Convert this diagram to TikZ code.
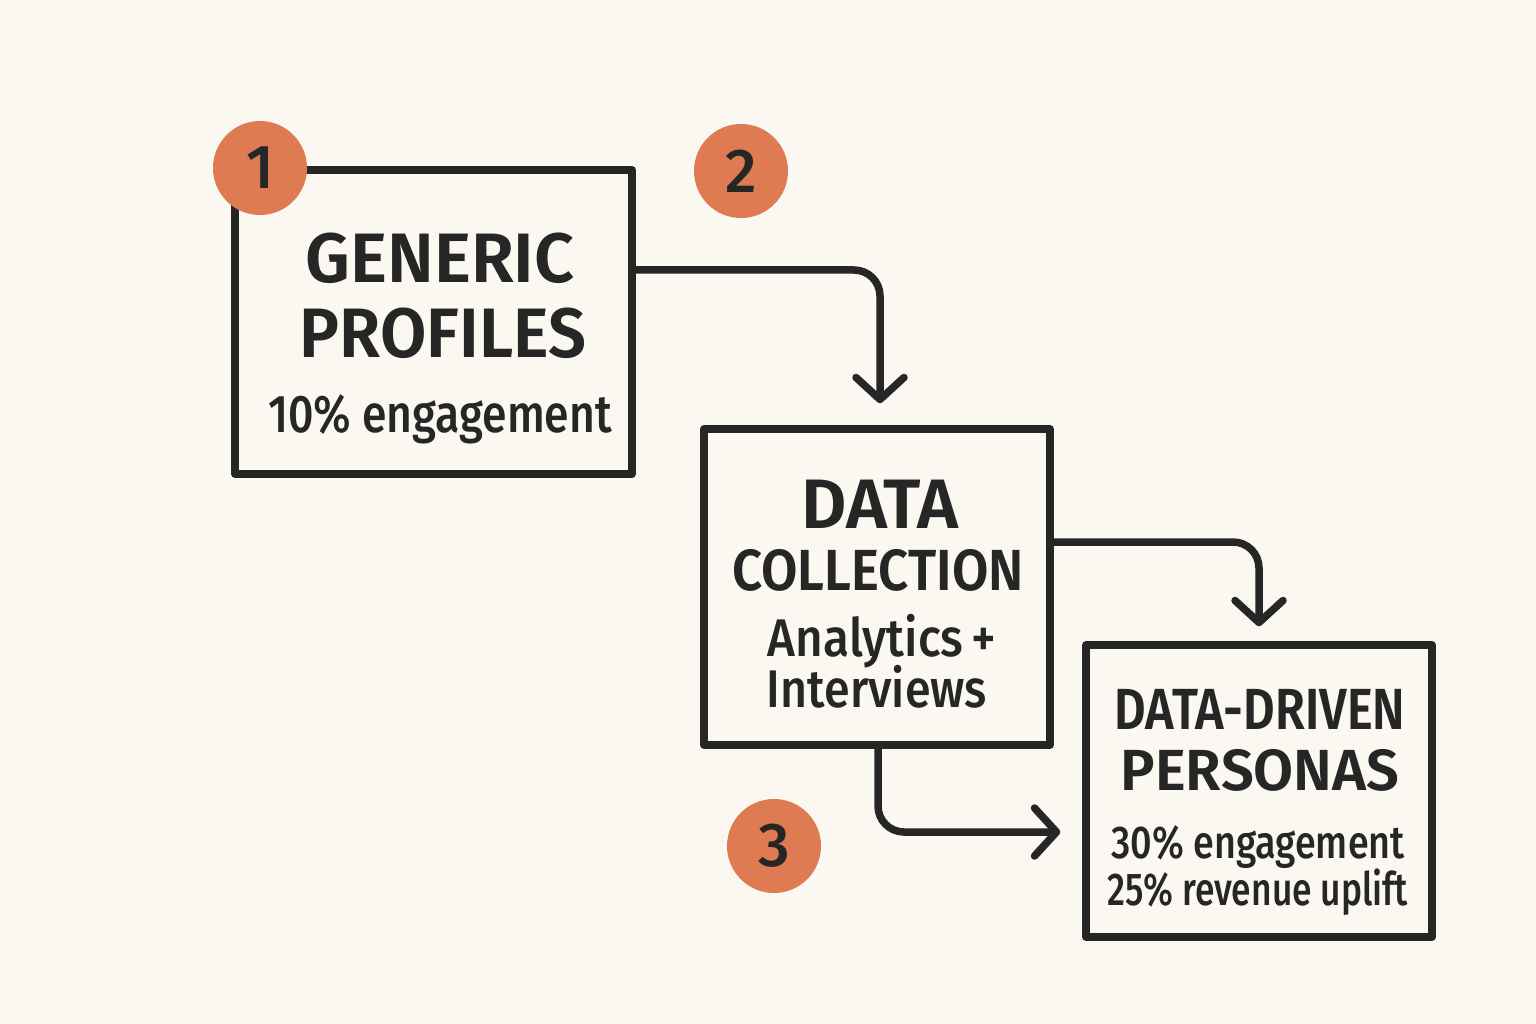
\documentclass[tikz,border=0pt]{standalone}
\usepackage{fontspec}
\setmainfont{Fira Sans}[UprightFont={* Medium}, BoldFont={* SemiBold}]
\usetikzlibrary{arrows.meta}
\definecolor{bg}{HTML}{FAF8F1}
\definecolor{ink}{HTML}{262626}
\definecolor{dot}{HTML}{DE7B52}
\tikzset{
  x=1pt, y=-1pt,
  box/.style={draw=ink, line width=7.5pt, rectangle, inner sep=0pt, line join=round},
  conn/.style={draw=ink, line width=7.5pt, rounded corners=26pt, line cap=round,
    -{Straight Barb[length=22pt, width=48pt, line width=7.5pt, round]}},
  badge/.style={circle, fill=dot, minimum size=94pt, inner sep=0pt, text=ink,
    font=\fontsize{62}{62}\selectfont},
  ttl/.style={anchor=base, text=ink, inner sep=0pt, font=\bfseries\fontsize{70}{70}\selectfont},
  ttlsm/.style={anchor=base, text=ink, inner sep=0pt, font=\bfseries\fontsize{58}{58}\selectfont},
  body/.style={anchor=base, text=ink, inner sep=0pt, font=\fontsize{53}{53}\selectfont},
  bodysm/.style={anchor=base, text=ink, inner sep=0pt, font=\fontsize{46}{46}\selectfont},
}
\begin{document}
\begin{tikzpicture}
\fill[bg] (0,0) rectangle (1536,1024);
\useasboundingbox (0,0) rectangle (1536,1024);

% boxes
\node[box, minimum width=397pt, minimum height=304pt] (b1) at (433.5,322) {};
\node[box, minimum width=346pt, minimum height=316pt] (b2) at (877,587) {};
\node[box, minimum width=346pt, minimum height=292pt] (b3) at (1259,791) {};

% badges
\node[badge] (n1) at (260,168) {1};
\node[badge] (n2) at (741,171) {2};
\node[badge] (n3) at (774,846) {3};

% texts box 1
\node[ttl] (t1a) at (440,283) {\scalebox{1.0}[1]{GENERIC}};
\node[ttl] (t1b) at (443,357) {\scalebox{0.96}[1]{PROFILES}};
\node[body] (t1c) at (440,432) {\scalebox{0.84}[1]{10\% engagement}};

% texts box 2
\node[ttl] (t2a) at (880,528) {DATA};
\node[ttlsm] (t2b) at (878,590) {\scalebox{0.91}[1]{COLLECTION}};
\node[body] (t2c) at (882,656) {\scalebox{0.9}[1]{Analytics\,+}};
\node[body] (t2d) at (877,707) {\scalebox{0.88}[1]{Interviews}};

% texts box 3
\node[ttlsm] (t3a) at (1260,729) {\scalebox{0.84}[1]{DATA-DRIVEN}};
\node[ttlsm] (t3b) at (1260,790) {PERSONAS};
\node[bodysm] (t3c) at (1258,858) {\scalebox{0.82}[1]{30\% engagement}};
\node[bodysm] (t3d) at (1258,905) {\scalebox{0.77}[1]{25\% revenue uplift}};

% connectors
\draw[conn] ([yshift=52pt]b1.east) -| ([xshift=3pt, yshift=22pt]b2.north);
\draw[conn] ([yshift=45pt]b2.east) -| ([yshift=15pt]b3.north);
\draw[conn] ([xshift=1pt]b2.south) |- ([xshift=-22pt, yshift=-41pt]b3.west);
\end{tikzpicture}
\end{document}
